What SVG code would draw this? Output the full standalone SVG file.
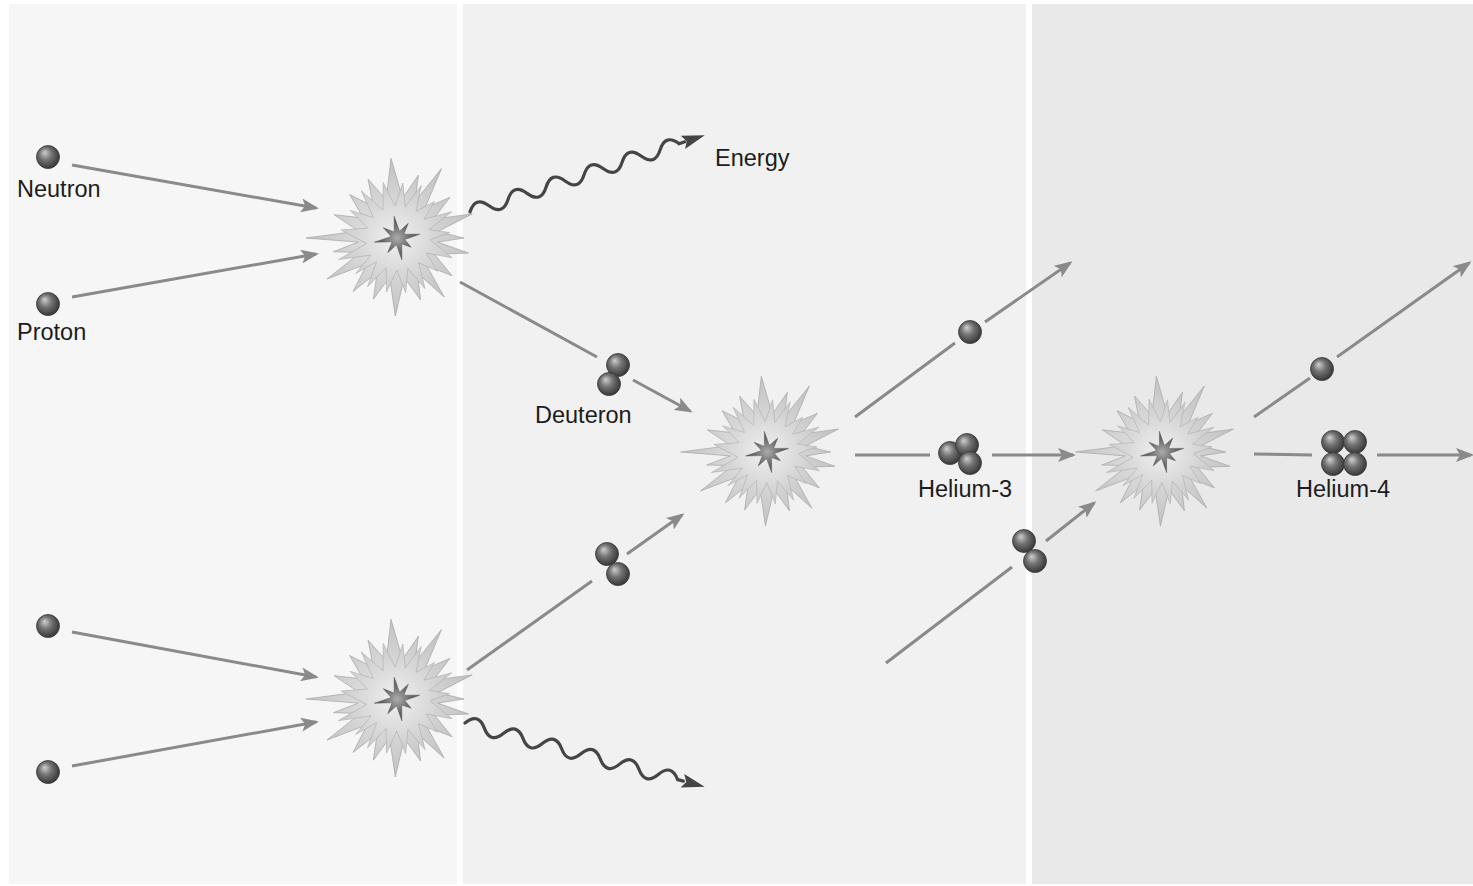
<svg xmlns="http://www.w3.org/2000/svg" width="1473" height="886" viewBox="0 0 1473 886">
  <style>
    .label { font-family: "Liberation Sans", Arial, sans-serif; font-size: 23.5px; fill: #1c1c1c; }
    .flow { fill: none; stroke: #8a8a8a; stroke-width: 3; }
    .flow-arrow { fill: none; stroke: #8a8a8a; stroke-width: 3; marker-end: url(#grayHead); }
    .wave { fill: none; stroke: #454545; stroke-width: 3.2; stroke-linecap: round; }
    .ball { fill: url(#ballShade); stroke: #3a3a3a; stroke-width: 0.8; }
  </style>
  <defs>
    <radialGradient id="ballShade" cx="0.45" cy="0.45" r="0.6" fx="0.35" fy="0.3">
      <stop offset="0" stop-color="#cfcfcf"/>
      <stop offset="0.45" stop-color="#737373"/>
      <stop offset="1" stop-color="#303030"/>
    </radialGradient>
    <radialGradient id="burstBack" cx="0.5" cy="0.5" r="0.5">
      <stop offset="0" stop-color="#e8e8e8"/>
      <stop offset="1" stop-color="#c2c2c2"/>
    </radialGradient>
    <radialGradient id="burstFront" cx="0.5" cy="0.5" r="0.5">
      <stop offset="0" stop-color="#f0f0f0"/>
      <stop offset="1" stop-color="#cbcbcb"/>
    </radialGradient>
    <radialGradient id="coreShade" cx="0.5" cy="0.5" r="0.5">
      <stop offset="0" stop-color="#ababab"/>
      <stop offset="0.6" stop-color="#6a6a6a"/>
      <stop offset="1" stop-color="#4a4a4a"/>
    </radialGradient>
    <marker id="grayHead" markerUnits="userSpaceOnUse" markerWidth="20" markerHeight="14" refX="15" refY="7" orient="auto">
      <path d="M0,0 L18,7 L0,14 L4,7 z" fill="#8a8a8a"/>
    </marker>
    <!-- spiky collision flash, drawn around its own origin -->
    <g id="burst">
      <polygon fill="url(#burstBack)" stroke="#a9a9a9" stroke-width="0.8" points="-7,-79.7 4.5,-39.7 20.4,-62.8 16.9,-36.3 43.5,-69.5 26.8,-29.7 52,-40.7 35.3,-18.8 74.2,-24.1 39.5,-6.3 66,0 39.7,4.1 70.4,15 36.5,16.3 54.1,37.8 28.8,27.7 46.2,59.1 19.3,34.9 22.6,62 6.3,39.5 -2.7,78 -8.3,39.1 -24.7,61.2 -20.7,34.3 -45,53.6 -30.7,25.7 -71,41 -37.3,14.4 -64.6,13.7 -39.7,4.1 -92,0 -39.3,-6.9 -63.9,-23.3 -34.7,-20 -48.3,-43.5 -24.7,-31.5 -29.9,-58.8 -11.7,-38.3"/>
      <polygon fill="url(#burstFront)" stroke="#b2b2b2" stroke-width="0.7" points="4.8,-55 7.3,-31.1 23.3,-52.6 17.9,-26.5 36.6,-36.6 25.9,-18.8 53.7,-26.2 31,-8.3 51.5,-5.4 32,1.7 54,19.7 28.2,15 39.7,33.2 20.5,24.6 27,50.7 9.9,30.4 7.7,54.6 -1.2,32 -11.5,54 -11.9,29.7 -30.5,48.8 -21.4,23.7 -42.3,35.5 -27.2,17 -59.5,21.6 -31.6,5.5 -56.9,-8 -30.4,-9.9 -47.8,-27.6 -24.6,-20.5 -36.8,-47.2 -15,-28.2 -14.8,-55.5 -2.8,-31.9"/>
      <polygon fill="url(#coreShade)" stroke="#555" stroke-width="0.5" points="-3.8,-21.7 1.5,-6.8 10.3,-14.7 5.9,-3.8 21.7,-3.8 6.8,1.5 13.1,9.2 3.8,5.9 3.8,21.7 -1.5,6.8 -10.3,14.7 -5.9,3.8 -23.6,4.2 -6.8,-1.5 -14.7,-10.3 -3.8,-5.9"/>
    </g>
  </defs>

  <!-- three stage panels -->
  <g id="panels">
    <rect x="0" y="0" width="1473" height="886" fill="#ffffff"/>
    <rect x="9" y="4" width="448" height="880" fill="#f6f6f6"/>
    <rect x="463" y="4" width="563" height="880" fill="#f1f1f1"/>
    <rect x="1032" y="4" width="441" height="880" fill="#e9e9e9"/>
  </g>

  <!-- connectors -->
  <g id="connectors">
    <line class="flow-arrow" x1="72" y1="165" x2="316" y2="208"/>
    <line class="flow-arrow" x1="72" y1="297" x2="316" y2="254"/>
    <line class="flow-arrow" x1="72" y1="632" x2="316" y2="677"/>
    <line class="flow-arrow" x1="72" y1="766" x2="316" y2="722"/>

    <line class="flow" x1="460" y1="282" x2="597" y2="357"/>
    <line class="flow-arrow" x1="633" y1="380" x2="690" y2="411"/>
    <line class="flow" x1="467" y1="670" x2="592" y2="581"/>
    <line class="flow-arrow" x1="627" y1="554" x2="682" y2="515"/>

    <line class="flow" x1="855" y1="417" x2="955" y2="343"/>
    <line class="flow-arrow" x1="985" y1="322" x2="1070" y2="263"/>
    <line class="flow" x1="855" y1="455" x2="930" y2="455"/>
    <line class="flow-arrow" x1="992" y1="455" x2="1073" y2="455"/>
    <line class="flow" x1="886" y1="663" x2="1012" y2="567"/>
    <line class="flow-arrow" x1="1046" y1="541" x2="1094" y2="503"/>

    <line class="flow" x1="1254" y1="417" x2="1310" y2="378"/>
    <line class="flow-arrow" x1="1337" y1="357" x2="1469" y2="263"/>
    <line class="flow" x1="1254" y1="454" x2="1312" y2="455"/>
    <line class="flow-arrow" x1="1377" y1="455" x2="1471" y2="455"/>

    <!-- energy photons -->
    <g transform="translate(470,212) rotate(-18.1)">
      <path class="wave" d="M0,0 q10,-14 20,0 t20,0 t20,0 t20,0 t20,0 t20,0 t20,0 t20,0 t20,0 t20,0 t20,0 l6,0"/>
      <path d="M224,-7 L247,0 L224,7 L228,0 z" fill="#454545"/>
    </g>
    <g transform="translate(465,723) rotate(14.9)">
      <path class="wave" d="M0,0 q10,-14 20,0 t20,0 t20,0 t20,0 t20,0 t20,0 t20,0 t20,0 t20,0 t20,0 t20,0 l6,0"/>
      <path d="M225,-7 L248,0 L225,7 L229,0 z" fill="#454545"/>
    </g>
  </g>

  <!-- collisions -->
  <g id="fusion-1"><use href="#burst" transform="translate(398,238)"/></g>
  <g id="fusion-2"><use href="#burst" transform="translate(398,699)"/></g>
  <g id="fusion-3"><use href="#burst" transform="translate(768,452) scale(0.95)"/></g>
  <g id="fusion-4"><use href="#burst" transform="translate(1163,452) scale(0.95)"/></g>

  <!-- particles -->
  <g id="neutron">
    <circle class="ball" cx="48" cy="157" r="11.5"/>
    <text class="label" x="17" y="197">Neutron</text>
  </g>
  <g id="proton">
    <circle class="ball" cx="48" cy="304" r="11.5"/>
    <text class="label" x="17" y="340">Proton</text>
  </g>
  <g id="neutron-2"><circle class="ball" cx="48" cy="626" r="11.5"/></g>
  <g id="proton-2"><circle class="ball" cx="48" cy="772" r="11.5"/></g>

  <g id="energy-label"><text class="label" x="715" y="166">Energy</text></g>

  <g id="deuteron">
    <circle class="ball" cx="618" cy="365" r="11.5"/>
    <circle class="ball" cx="609" cy="384" r="11.5"/>
    <text class="label" x="535" y="423">Deuteron</text>
  </g>
  <g id="deuteron-2">
    <circle class="ball" cx="607" cy="554" r="11.5"/>
    <circle class="ball" cx="618" cy="574" r="11.5"/>
  </g>

  <g id="proton-out"><circle class="ball" cx="970" cy="332" r="11.5"/></g>

  <g id="helium-3">
    <circle class="ball" cx="950" cy="453" r="11.5"/>
    <circle class="ball" cx="967" cy="445" r="11.5"/>
    <circle class="ball" cx="970" cy="463" r="11.5"/>
    <text class="label" x="918" y="497">Helium-3</text>
  </g>

  <g id="deuteron-3">
    <circle class="ball" cx="1024" cy="541" r="11.5"/>
    <circle class="ball" cx="1035" cy="561" r="11.5"/>
  </g>

  <g id="proton-out-2"><circle class="ball" cx="1322" cy="369" r="11.5"/></g>

  <g id="helium-4">
    <circle class="ball" cx="1333" cy="442" r="11.5"/>
    <circle class="ball" cx="1355" cy="442" r="11.5"/>
    <circle class="ball" cx="1333" cy="464" r="11.5"/>
    <circle class="ball" cx="1355" cy="464" r="11.5"/>
    <text class="label" x="1296" y="497">Helium-4</text>
  </g>
</svg>
